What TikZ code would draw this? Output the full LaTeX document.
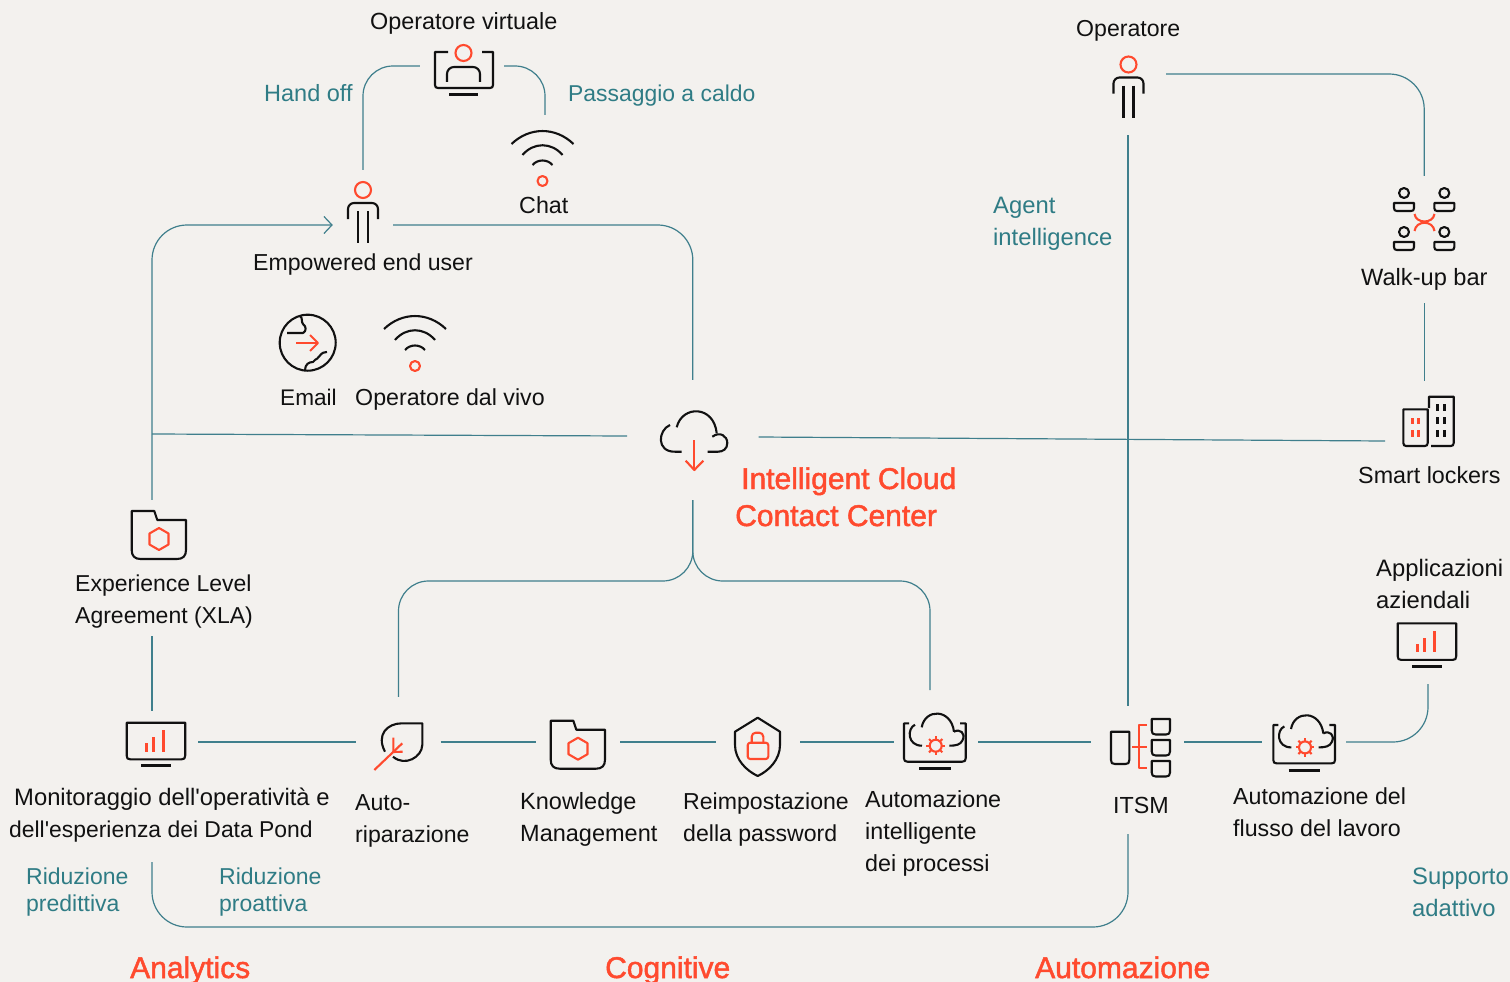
\documentclass[tikz,border=0pt]{standalone}
\usepackage{fontspec}
\setmainfont{Liberation Sans}
\newfontfamily\plainf{Liberation Sans}
\newfontfamily\medf[FakeBold=1.6]{Liberation Sans}
\usetikzlibrary{arrows.meta,calc}
\definecolor{bgc}{HTML}{F3F1EE}
\definecolor{tealc}{HTML}{3F7F8C}
\definecolor{tealt}{HTML}{2F7C85}
\definecolor{redc}{HTML}{FF4A2E}
\definecolor{inkc}{HTML}{111111}
\tikzset{
  conn/.style={draw=tealc,line width=1.2pt,line cap=butt},
  iconbox/.style={rectangle,inner sep=0pt,minimum width=#1},
  ink/.style={draw=inkc,line width=2.1pt,line join=round,fill=none},
  hot/.style={draw=redc,line width=2.1pt,line join=round,fill=none},
  sz/.style={font=\plainf\fontsize{#1}{32}\selectfont},
  lbl/.style={anchor=base west,inner sep=0pt,text=inkc,sz=23.3,align=left},
  tlbl/.style={lbl,text=tealt},
  tlbltight/.style={lbl,text=tealt,font=\plainf\fontsize{23}{27}\selectfont},
  hlbl/.style={anchor=base west,inner sep=0pt,text=redc,font=\medf\fontsize{30}{37}\selectfont,align=left},
  wifiicon/.pic={
    \draw[ink] (-31,-37) .. controls (-13,-54.3) and (13,-54.3) .. (31,-37);
    \draw[ink] (-20,-26) .. controls (-9,-39) and (9,-39) .. (20,-26);
    \draw[ink] (-10,-16) .. controls (-5,-22) and (5,-22) .. (10,-16);
    \draw[hot] (0,0) circle (5);
  },
  personicon/.pic={
    \draw[hot] (0,0) circle (8);
    \draw[ink,rounded corners=6pt] (-15,29) -- (-15,13) -- (15,13) -- (15,29);
    \draw[ink] (-5,21) -- (-5,53);
    \draw[ink] (5,21) -- (5,53);
  },
  foldericon/.pic={
    \draw[ink] (22.6,0) -- (0,0) -- (0,39) .. controls (0,45) and (3,48) .. (9,48) -- (45.3,48) .. controls (51.3,48) and (54.3,45) .. (54.3,39) -- (54.3,9) -- (25.6,9) -- cycle;
    \draw[hot,shift={(27.3,28)}] (90:11) -- (30:11) -- (-30:11) -- (-90:11) -- (-150:11) -- (150:11) -- cycle;
  },
  charticon/.pic={
    \draw[ink] (0,0) -- (58.5,0) -- (58.5,33) .. controls (58.5,35.6) and (57.5,36.6) .. (55,36.6) -- (3.5,36.6) .. controls (1,36.6) and (0,35.6) .. (0,33) -- cycle;
    \draw[inkc,line width=3pt] (14.3,43) -- (44.3,43);
    \fill[redc] (18.3,29) rectangle (21,20.6);
    \fill[redc] (25.6,29) rectangle (28.6,14.6);
    \fill[redc] (35,29) rectangle (38.3,7.3);
  },
  rpaicon/.pic={
    \draw[ink] (5,0) -- (0,0) -- (0,35) .. controls (0,37.4) and (1,38.4) .. (3.5,38.4) -- (58.2,38.4) .. controls (60.7,38.4) and (61.7,37.4) .. (61.7,35) -- (61.7,0) -- (56,0);
    \draw[inkc,line width=3pt] (15.3,45) -- (46.7,45);
    \draw[ink] (11,1.4) .. controls (3,5) and (3,22.4) .. (18,22.4);
    \draw[ink] (17.7,4) .. controls (21,-15) and (47,-15) .. (50,8.4);
    \draw[ink] (50,8.4) .. controls (56,5) and (62,10) .. (58.5,17) .. controls (56.5,21.4) and (52,22.4) .. (45.3,22.4);
    \draw[hot] (31.7,22.4) circle (6);
    \foreach \a in {0,45,...,315} {\draw[hot] (31.7,22.4) ++(\a:6) -- ++(\a:3.4);}
  },
  walkperson/.pic={
    \draw[ink] (0,0) circle (5);
    \draw[ink] (-10,10) -- (10,10) -- (10,15) .. controls (10,17.2) and (9,18) .. (7,18) -- (-7,18) .. controls (-9,18) and (-10,17.2) .. (-10,15) -- cycle;
  },
  itsmbox/.pic={
    \draw[ink] (0,0) -- (18.3,0) -- (18.3,11.5) .. controls (18.3,14.5) and (17,15.5) .. (14.3,15.5) -- (4,15.5) .. controls (1.3,15.5) and (0,14.5) .. (0,11.5) -- cycle;
  }
}
\begin{document}
\begin{tikzpicture}[x=1pt,y=-1pt]
\useasboundingbox (0,0) rectangle (1510,982);
\clip (0,0) rectangle (1510,982);
\fill[bgc] (0,0) rectangle (1510,982);

% invisible icon boxes: connectors stop at their edges
\node[iconbox=92,minimum height=62] (mon) at (152,742) {};
\node[iconbox=84,minimum height=90] (heal) at (398.5,742) {};
\node[iconbox=84,minimum height=60] (kb) at (578,742) {};
\node[iconbox=84,minimum height=60] (shield) at (758,742) {};
\node[iconbox=84,minimum height=60] (rpa) at (936,742) {};
\node[iconbox=93,minimum height=60] (itsm) at (1137.5,742) {};
\node[iconbox=84,minimum height=60] (rpatwo) at (1304,742) {};
\node[iconbox=60,minimum height=82] (apps) at (1428,643) {};
\node[iconbox=60,minimum height=110] (empower) at (363,225) {};
\node[iconbox=84,minimum height=40] (virt) at (462,66) {};
\node[iconbox=60,minimum height=100] (chat) at (545,165) {};
\node[iconbox=131,minimum height=120] (cloud) at (692.8,440) {};
\node[iconbox=76,minimum height=122] (oper) at (1128,74) {};
\node[iconbox=70,minimum height=127] (walk) at (1424.2,239.5) {};
\node[iconbox=78,minimum height=120] (lock) at (1424.2,441) {};
\node[iconbox=60,minimum height=136] (xla) at (152,568) {};

\coordinate (rpatop) at (930,690);
\coordinate (itsmtop) at (1128,706);
\coordinate (itsmlow) at (1128,834);
\coordinate (monlow) at (152,862);
\coordinate (botmid) at (640,927);
\coordinate (bl) at (600,581);
\coordinate (br) at (800,581);
\coordinate (xlajoin) at (152,434);

% connectors
\draw[conn,rounded corners=30pt] (empower.north) |- (virt.west);
\draw[conn,rounded corners=30pt] (virt.east) -| (chat.north);
\draw[conn,rounded corners=35pt] (empower.east) -| (cloud.north);
\draw[conn,rounded corners=35pt,-{Straight Barb[length=8pt,width=17pt,line width=1.2pt]}] (xla.north) |- (empower.west);
\draw[conn] (xlajoin) -- ([yshift=4pt]cloud.west);
\draw[conn] ([yshift=3pt]cloud.east) -- (lock.west);
\draw[conn,rounded corners=30pt] (cloud.south) |- (bl) -| (heal.north);
\draw[conn,rounded corners=30pt] (cloud.south) |- (br) -| (rpatop);
\draw[conn] (xla.south) -- (mon.north);
\draw[conn] (mon.east) -- (heal.west);
\draw[conn] (heal.east) -- (kb.west);
\draw[conn] (kb.east) -- (shield.west);
\draw[conn] (shield.east) -- (rpa.west);
\draw[conn] (rpa.east) -- (itsm.west);
\draw[conn] (itsm.east) -- (rpatwo.west);
\draw[conn,rounded corners=35pt] (rpatwo.east) -| (apps.south);
\draw[conn,rounded corners=35pt] (oper.east) -| (walk.north);
\draw[conn] (walk.south) -- (lock.north);
\draw[conn] (oper.south) -- (itsmtop);
\draw[conn,rounded corners=35pt] (itsmlow) |- (botmid) -| (monlow);

% icons
\draw[hot] (463.5,53) circle (8);
\draw[ink] (448,52) -- (435,52) -- (435,85) .. controls (435,87) and (436,88) .. (438,88) -- (490,88) .. controls (492,88) and (493,87) .. (493,85) -- (493,52) -- (482,52);
\draw[inkc,line width=3pt] (449,94.5) -- (478,94.5);
\draw[ink,rounded corners=7pt] (447,82) -- (447,67) -- (480,67) -- (480,82);

\pic at (542.5,181) {wifiicon};
\pic at (415,366) {wifiicon};
\pic at (363,190) {personicon};
\pic at (1128.5,64.5) {personicon};

% globe
\draw[ink] (307.7,342.7) circle (28);
\draw[hot] (296,343) -- (318,343);
\draw[hot] (310,335) -- (318,343) -- (310,351);
\draw[ink] (300,316) .. controls (303,318) and (301,322) .. (303,324) .. controls (306,326) and (307,331) .. (303,333) -- (287,333);
\draw[ink] (305,370.5) .. controls (305,364) and (309,362) .. (313,362) .. controls (316,358) and (319,359) .. (320,355.5) .. controls (322,352.5) and (325,352) .. (327,352);

% walk-up bar
\pic at (1404,193) {walkperson};
\pic at (1444.3,193) {walkperson};
\pic at (1404,232) {walkperson};
\pic at (1444.3,232) {walkperson};
\draw[hot] (1414.5,214) .. controls (1416,224) and (1433,224) .. (1434.5,214);
\draw[hot] (1414.5,231) .. controls (1416,220) and (1433,220) .. (1434.5,231);

% lockers
\draw[ink] (1403.3,409.3) -- (1427.7,409.3) -- (1427.7,443) .. controls (1427.7,445) and (1426.7,446) .. (1424.7,446) -- (1406.3,446) .. controls (1404.3,446) and (1403.3,445) .. (1403.3,443) -- cycle;
\draw[ink] (1429,408) -- (1429,396.7) -- (1453.7,396.7) -- (1453.7,443) .. controls (1453.7,445) and (1452.7,446) .. (1450.7,446) -- (1431,446);
\foreach \y in {417.7,430} {
  \fill[redc] (1411,\y) rectangle ++(3.3,6.7);
  \fill[redc] (1416.7,\y) rectangle ++(3.3,6.7);
}
\foreach \y in {404,417.3,430} {
  \fill[inkc] (1436,\y) rectangle ++(3.3,6.7);
  \fill[inkc] (1442.7,\y) rectangle ++(3.3,6.7);
}

% cloud download
\draw[ink] (670,425) .. controls (658,430) and (656,452) .. (675,451.7) -- (681.7,451.7);
\draw[ink] (676.7,427.3) .. controls (682,405) and (714,405) .. (716.7,433.3);
\draw[ink] (712.3,436.7) .. controls (720,431) and (727.3,436) .. (727.3,443) .. controls (727.3,449) and (723,451.7) .. (718,451.7) -- (707.7,451.7);
\draw[hot] (694.3,440) -- (694.3,470);
\draw[hot] (685.7,460.7) -- (694.3,470) -- (703.3,460.7);

\pic at (131.7,511) {foldericon};
\pic at (550.7,720.7) {foldericon};
\pic at (126.7,722.7) {charticon};
\pic at (1397.7,623.3) {charticon};
\pic at (904,723.3) {rpaicon};
\pic at (1273.3,725) {rpaicon};

% leaf
\draw[ink] (385,751.7) .. controls (376,735) and (387,723.3) .. (402,723.3) -- (422.3,723.3) -- (422.3,745) .. controls (422,757) and (405,767) .. (393,756.7);
\draw[hot] (374.3,770) -- (402.3,743.3);
\draw[hot] (393.3,737.7) -- (393.3,752) -- (402.7,751.7);

% shield
\draw[ink] (757.7,717.7) -- (735,731.7) -- (735,745) .. controls (735,760) and (747,771) .. (757.7,776) .. controls (768.4,771) and (780,760) .. (780,745) -- (780,731.7) -- cycle;
\draw[hot,rounded corners=2.5pt] (747.7,742.7) rectangle (768.3,759);
\draw[hot,rounded corners=4pt] (751.7,742.7) -- (751.7,732.7) -- (763.3,732.7) -- (763.3,742.7);

% ITSM
\draw[ink] (1111,731.7) -- (1129.3,731.7) -- (1129.3,760) .. controls (1129.3,763) and (1128.3,764) .. (1125.3,764) -- (1115,764) .. controls (1112,764) and (1111,763) .. (1111,760) -- cycle;
\pic at (1151.7,719) {itsmbox};
\pic at (1151.7,740) {itsmbox};
\pic at (1151.7,761) {itsmbox};
\draw[hot] (1132.3,746.7) -- (1146.7,746.7);
\draw[hot] (1147,725) -- (1139,725) -- (1139,768.3) -- (1147,768.3);

% labels
\node[lbl,sz=23.4] (tvirt) at (370,29.5) {Operatore virtuale};
\node[tlbl,sz=23.5] (thand) at (264,101) {Hand off};
\node[tlbl,sz=22.9] (tpass) at (568,101) {Passaggio a caldo};
\node[lbl] (tchat) at (519,213) {Chat};
\node[lbl,sz=23.1] (temp) at (253,270) {Empowered end user};
\node[lbl,sz=22.6] (tmail) at (280,405) {Email};
\node[lbl,sz=23.2] (tlive) at (355,405) {Operatore dal vivo};
\node[hlbl] (thead) at (741,489) {Intelligent Cloud};
\node[hlbl] (theadb) at (735,526) {Contact Center};
\node[lbl,sz=23] (txla) at (75,623) {Experience Level\\Agreement (XLA)};
\node[lbl,sz=23.8] (tmon) at (14,805) {Monitoraggio dell'operatività e};
\node[lbl,sz=22.9] (tmonb) at (9,837) {dell'esperienza dei Data Pond};
\node[lbl,sz=23.1] (theal) at (355,842) {Auto-\\riparazione};
\node[lbl,sz=23.5] (tkb) at (520,841) {Knowledge\\Management};
\node[lbl,sz=23.1] (tpwd) at (683,841) {Reimpostazione\\della password};
\node[lbl] (trpa) at (865,871) {Automazione\\intelligente\\dei processi};
\node[lbl] (titsm) at (1113,813) {ITSM};
\node[lbl,sz=23.2] (trpb) at (1233,836) {Automazione del\\flusso del lavoro};
\node[tlbltight] (tpred) at (26,911) {Riduzione\\predittiva};
\node[tlbltight] (tpro) at (219,911) {Riduzione\\proattiva};
\node[tlbl,sz=23.8] (tadapt) at (1412,916) {Supporto\\adattivo};
\node[hlbl] (tana) at (130,978) {Analytics};
\node[hlbl] (tcog) at (605,978) {Cognitive};
\node[hlbl] (taut) at (1035,978) {Automazione};
\node[lbl,sz=23.1] (toper) at (1076,36.5) {Operatore};
\node[tlbl,sz=23.8] (tagent) at (993,245) {Agent\\intelligence};
\node[lbl,sz=23.6] (twalk) at (1361,285) {Walk-up bar};
\node[lbl] (tlock) at (1358,483) {Smart lockers};
\node[lbl,sz=23.8] (tapps) at (1376,608) {Applicazioni\\aziendali};
\end{tikzpicture}
\end{document}
